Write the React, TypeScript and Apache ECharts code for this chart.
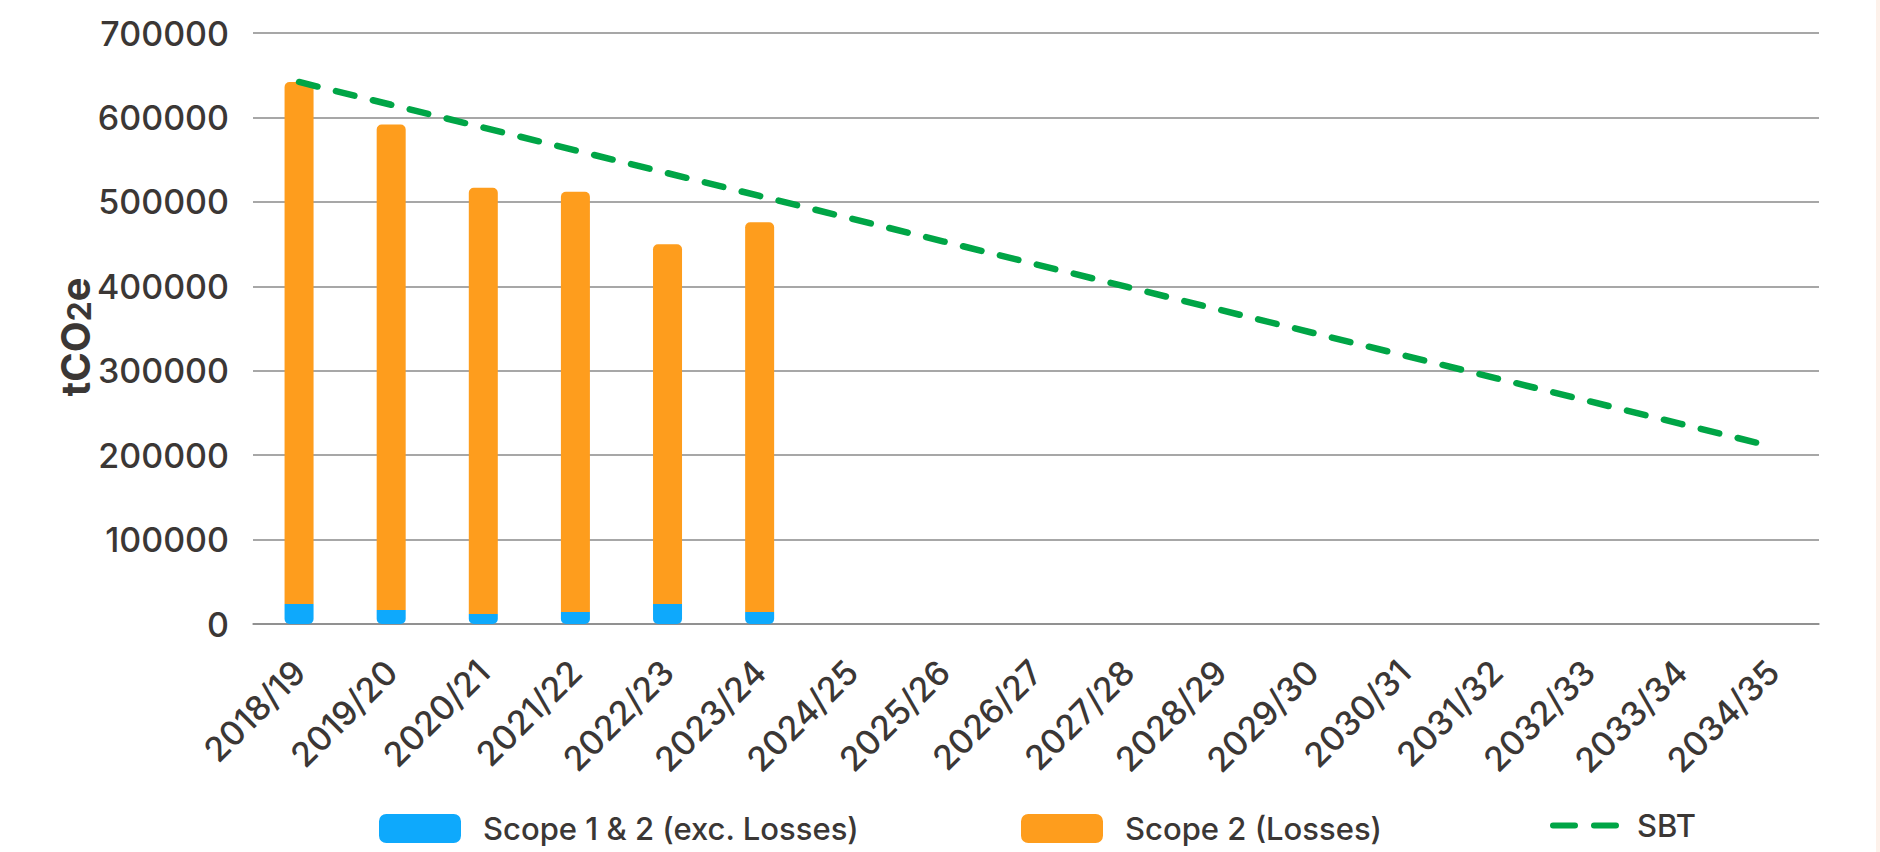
import React, { useEffect, useRef } from "react";
import * as echarts from "echarts";

const categories = [
  "2018/19", "2019/20", "2020/21", "2021/22", "2022/23", "2023/24", "2024/25", "2025/26", "2026/27",
  "2027/28", "2028/29", "2029/30", "2030/31", "2031/32", "2032/33", "2033/34", "2034/35",
];
const scope12 = [23600, 16500, 11800, 14200, 23600, 14200];
const scope2Losses = [618400, 575200, 504900, 497800, 426100, 461500];
const sbt = [
  642000, 615000, 588000, 561000, 534000, 507000, 480000, 453000, 426000,
  399000, 372000, 345000, 318000, 291000, 264000, 237000, 210000,
];
const yTicks = { min: 0, max: 700000, interval: 100000 };

const FONT = "Inter, 'Noto Sans', sans-serif";
const TEXT = "#3b3735";
const BLUE = "#0ea9fc";
const ORANGE = "#fe9d1d";
const GREEN = "#00a546";
const DASH_ICON =
  "path://M3,0H25A3,3,0,0,1,25,6H3A3,3,0,0,1,3,0Z M44,0H66A3,3,0,0,1,66,6H44A3,3,0,0,1,44,0Z";

export default function App() {
  const ref = useRef<HTMLDivElement>(null);
  useEffect(() => {
    if (!ref.current) return;
    const chart = echarts.init(ref.current, null, { renderer: "svg" });
    const legendText = { fontFamily: FONT, fontSize: 31, fontWeight: 500, color: TEXT, padding: [0, 0, 0, 17] };
    chart.setOption({
      animation: false,
      backgroundColor: "#ffffff",
      textStyle: { fontFamily: FONT },
      grid: { left: 253, right: 61, top: 33, bottom: 228 },
      legend: [
        {
          top: 808, left: 374, itemWidth: 82, itemHeight: 29, textStyle: legendText,
          data: [{ name: "Scope 1 & 2 (exc. Losses)", icon: "roundRect" }],
        },
        {
          top: 808, left: 1016, itemWidth: 82, itemHeight: 29, textStyle: legendText,
          data: [{ name: "Scope 2 (Losses)", icon: "roundRect" }],
        },
        {
          top: 805, left: 1545, itemWidth: 69, itemHeight: 6,
          textStyle: { ...legendText, padding: [0, 0, 0, 13] },
          data: [{ name: "SBT", icon: DASH_ICON, itemStyle: { color: GREEN } }],
        },
      ],
      xAxis: {
        type: "category",
        data: categories,
        axisTick: { show: false },
        axisLine: { lineStyle: { color: "#8a8a8a", width: 1.5 } },
        axisLabel: { interval: 0, rotate: 45, fontSize: 34, fontWeight: 500, color: TEXT, margin: 42, fontFamily: FONT },
      },
      yAxis: {
        type: "value",
        ...yTicks,
        axisLine: { show: false },
        axisTick: { show: false },
        axisLabel: {
          fontSize: 34, fontWeight: 500, color: TEXT, margin: 24, fontFamily: FONT,
          formatter: (v: number) => String(v),
        },
        splitLine: { lineStyle: { color: "#8a8a8a", width: 1.5 } },
      },
      series: [
        {
          name: "Scope 1 & 2 (exc. Losses)",
          type: "bar",
          stack: "total",
          barWidth: 29,
          data: scope12,
          itemStyle: { color: BLUE, borderRadius: [0, 0, 5, 5] },
        },
        {
          name: "Scope 2 (Losses)",
          type: "bar",
          stack: "total",
          barWidth: 29,
          data: scope2Losses,
          itemStyle: { color: ORANGE, borderRadius: [5, 5, 0, 0] },
        },
        {
          name: "SBT",
          type: "line",
          data: sbt,
          symbol: "none",
          showSymbol: false,
          lineStyle: { color: GREEN, width: 6.5, type: [19, 19], cap: "round" },
          itemStyle: { color: GREEN },
          z: 3,
        },
      ],
      graphic: [
        { type: "rect", right: 0, top: 0, shape: { width: 4, height: 852 }, style: { fill: "#fdf1ea" } },
        {
          type: "text",
          x: 71,
          y: 337,
          rotation: Math.PI / 2,
          style: {
            text: "{a|tCO}{b|2}{a|e}",
            align: "center",
            verticalAlign: "middle",
            rich: {
              a: { fontFamily: FONT, fontSize: 40, fontWeight: "bold", fill: TEXT, lineHeight: 48, verticalAlign: "bottom" },
              b: { fontFamily: FONT, fontSize: 32, fontWeight: "bold", fill: TEXT, lineHeight: 48, verticalAlign: "bottom" },
            },
          },
        },
      ],
    });
    return () => chart.dispose();
  }, []);
  return <div ref={ref} style={{ position: "fixed", left: 0, top: 0, width: 1880, height: 852 }} />;
}
